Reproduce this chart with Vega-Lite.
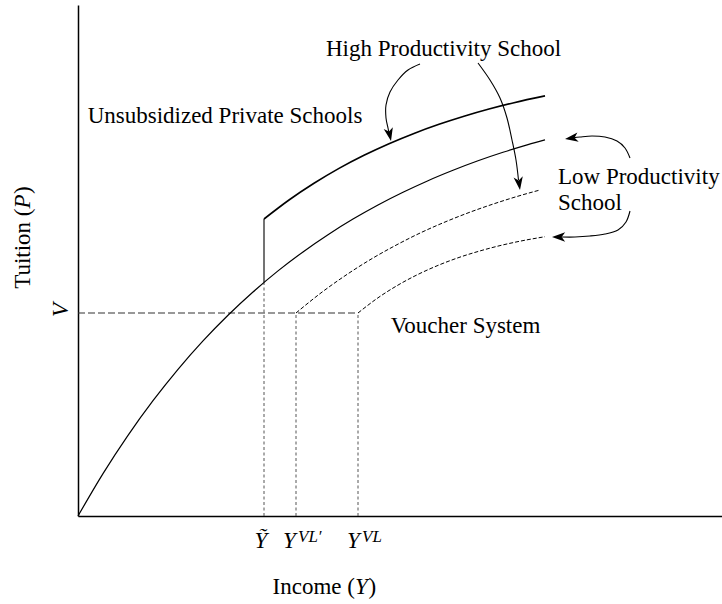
{
  "$schema": "https://vega.github.io/schema/vega-lite/v6.json",
  "width": 644,
  "height": 511,
  "autosize": {"type": "none"},
  "padding": {"left": 78, "top": 5, "right": 0, "bottom": 88},
  "background": "white",
  "config": {
    "view": {"stroke": null},
    "font": "Liberation Serif",
    "axis": {"domainColor": "black", "domainWidth": 1.5, "ticks": false, "labels": false, "grid": false}
  },
  "datasets": {
    "base": [
      {"x": 0, "y": 0}, {"x": 25, "y": 42.4}, {"x": 50, "y": 80.7}, {"x": 75, "y": 115.3}, {"x": 100, "y": 146.7},
      {"x": 125, "y": 175.1}, {"x": 150, "y": 200.8}, {"x": 175, "y": 224}, {"x": 200, "y": 245.1}, {"x": 225, "y": 264.1},
      {"x": 250, "y": 281.3}, {"x": 275, "y": 296.9}, {"x": 300, "y": 311}, {"x": 325, "y": 323.7}, {"x": 350, "y": 335.3},
      {"x": 375, "y": 345.7}, {"x": 400, "y": 355.2}, {"x": 425, "y": 363.7}, {"x": 450, "y": 371.4}, {"x": 467, "y": 376.2}
    ],
    "high": [
      {"x": 186, "y": 297}, {"x": 211, "y": 316}, {"x": 236, "y": 332.7}, {"x": 261, "y": 347.6}, {"x": 286, "y": 360.7},
      {"x": 311, "y": 372.3}, {"x": 336, "y": 382.6}, {"x": 361, "y": 391.7}, {"x": 386, "y": 399.8}, {"x": 411, "y": 407},
      {"x": 436, "y": 413.3}, {"x": 467, "y": 420.1}
    ],
    "low1": [
      {"x": 218, "y": 203}, {"x": 243, "y": 223.1}, {"x": 268, "y": 240.9}, {"x": 293, "y": 256.8}, {"x": 318, "y": 270.8},
      {"x": 343, "y": 283.4}, {"x": 368, "y": 294.4}, {"x": 393, "y": 304.2}, {"x": 418, "y": 312.9}, {"x": 443, "y": 320.7},
      {"x": 462, "y": 326}
    ],
    "low2": [
      {"x": 280, "y": 203}, {"x": 300, "y": 218.2}, {"x": 320, "y": 230.9}, {"x": 340, "y": 241.6}, {"x": 360, "y": 250.6},
      {"x": 380, "y": 258.2}, {"x": 400, "y": 264.5}, {"x": 420, "y": 269.9}, {"x": 440, "y": 274.4}, {"x": 467, "y": 279.3}
    ],
    "vline": [{"x": 0, "x2": 280, "y": 203}],
    "drops": [
      {"x": 186, "y": 0, "y2": 233.7},
      {"x": 218, "y": 0, "y2": 203},
      {"x": 280, "y": 0, "y2": 203}
    ],
    "step": [{"x": 186, "y": 233.7, "y2": 297}],
    "arrows": [
      {"arrow": "A", "i": 0, "x": 342, "y": 452}, {"arrow": "A", "i": 1, "x": 330, "y": 446}, {"arrow": "A", "i": 2, "x": 320, "y": 436},
      {"arrow": "A", "i": 3, "x": 312, "y": 424}, {"arrow": "A", "i": 4, "x": 308, "y": 411}, {"arrow": "A", "i": 5, "x": 308, "y": 398},
      {"arrow": "A", "i": 6, "x": 310, "y": 388}, {"arrow": "A", "i": 7, "x": 311, "y": 383},
      {"arrow": "B", "i": 0, "x": 400, "y": 453}, {"arrow": "B", "i": 1, "x": 412, "y": 436}, {"arrow": "B", "i": 2, "x": 422, "y": 418},
      {"arrow": "B", "i": 3, "x": 429, "y": 398}, {"arrow": "B", "i": 4, "x": 434, "y": 376}, {"arrow": "B", "i": 5, "x": 438, "y": 356},
      {"arrow": "B", "i": 6, "x": 440.5, "y": 336},
      {"arrow": "C", "i": 0, "x": 552, "y": 358}, {"arrow": "C", "i": 1, "x": 547, "y": 368}, {"arrow": "C", "i": 2, "x": 539, "y": 375},
      {"arrow": "C", "i": 3, "x": 527, "y": 379}, {"arrow": "C", "i": 4, "x": 514, "y": 380}, {"arrow": "C", "i": 5, "x": 502, "y": 379},
      {"arrow": "C", "i": 6, "x": 496, "y": 378.3},
      {"arrow": "D", "i": 0, "x": 552, "y": 305}, {"arrow": "D", "i": 1, "x": 548, "y": 294}, {"arrow": "D", "i": 2, "x": 540, "y": 286},
      {"arrow": "D", "i": 3, "x": 527, "y": 282}, {"arrow": "D", "i": 4, "x": 512, "y": 280}, {"arrow": "D", "i": 5, "x": 497, "y": 279},
      {"arrow": "D", "i": 6, "x": 484, "y": 279}
    ],
    "heads": [
      {"arrow": "A", "x": 313, "y": 375},
      {"arrow": "B", "x": 442, "y": 326},
      {"arrow": "C", "x": 487, "y": 377},
      {"arrow": "D", "x": 474, "y": 279}
    ],
    "labelsCenter": [
      {"x": 365.5, "y": 460, "t": "High Productivity School"},
      {"x": 147, "y": 393, "t": "Unsubsidized Private Schools"},
      {"x": 387.5, "y": 183, "t": "Voucher System"}
    ],
    "labelsLeft": [
      {"x": 480, "y": 332, "t": "Low Productivity"},
      {"x": 480, "y": 306, "t": "School"}
    ],
    "incomeRoman": [
      {"x": 277, "y": -78, "t": "Income ("}
    ],
    "incomeItalic": [
      {"x": 277, "y": -78, "t": "Y"}
    ],
    "incomeClose": [
      {"x": 290.5, "y": -78, "t": ")"}
    ],
    "ticksMain": [
      {"x": 183, "y": -32, "t": "Ỹ"}
    ],
    "ticksLeft": [
      {"x": 205, "y": -32, "t": "Y"},
      {"x": 269, "y": -32, "t": "Y"}
    ],
    "ticksSup": [
      {"x": 220, "y": -26, "t": "VL′"},
      {"x": 284, "y": -26, "t": "VL"}
    ]
  },
  "encoding": {
    "x": {"field": "x", "type": "quantitative", "scale": {"domain": [0, 644], "nice": false, "zero": false}, "axis": {"title": null}},
    "y": {"field": "y", "type": "quantitative", "scale": {"domain": [0, 511], "nice": false, "zero": false}, "axis": {"title": null}}
  },
  "layer": [
    {"data": {"name": "vline"}, "mark": {"type": "rule", "color": "#333", "strokeWidth": 1.1, "strokeDash": [7, 3]},
      "encoding": {"x2": {"field": "x2"}}},
    {"data": {"name": "drops"}, "mark": {"type": "rule", "color": "#555", "strokeWidth": 1, "strokeDash": [3, 2.5]},
      "encoding": {"y2": {"field": "y2"}}},
    {"data": {"name": "step"}, "mark": {"type": "rule", "color": "#444", "strokeWidth": 1.5},
      "encoding": {"y2": {"field": "y2"}}},
    {"data": {"name": "base"}, "mark": {"type": "line", "color": "black", "strokeWidth": 1.2, "interpolate": "monotone"}},
    {"data": {"name": "high"}, "mark": {"type": "line", "color": "black", "strokeWidth": 1.6, "interpolate": "monotone"}},
    {"data": {"name": "low1"}, "mark": {"type": "line", "color": "black", "strokeWidth": 1, "strokeDash": [4, 2], "interpolate": "monotone"}},
    {"data": {"name": "low2"}, "mark": {"type": "line", "color": "black", "strokeWidth": 1, "strokeDash": [4, 2], "interpolate": "monotone"}},
    {"data": {"name": "arrows"}, "mark": {"type": "line", "color": "black", "strokeWidth": 1.1, "interpolate": "cardinal"},
      "encoding": {"detail": {"field": "arrow"}, "order": {"field": "i", "type": "quantitative"}}},
    {"data": {"name": "heads"}, "transform": [{"filter": "datum.arrow === 'A'"}],
      "mark": {"type": "point", "shape": "M0,0 L0.6,1.7 L0,1.25 L-0.6,1.7 Z", "filled": true, "color": "black", "opacity": 1, "size": 240, "angle": 168, "strokeWidth": 0}},
    {"data": {"name": "heads"}, "transform": [{"filter": "datum.arrow === 'B'"}],
      "mark": {"type": "point", "shape": "M0,0 L0.6,1.7 L0,1.25 L-0.6,1.7 Z", "filled": true, "color": "black", "opacity": 1, "size": 240, "angle": 172, "strokeWidth": 0}},
    {"data": {"name": "heads"}, "transform": [{"filter": "datum.arrow === 'C'"}],
      "mark": {"type": "point", "shape": "M0,0 L0.6,1.7 L0,1.25 L-0.6,1.7 Z", "filled": true, "color": "black", "opacity": 1, "size": 240, "angle": 262, "strokeWidth": 0}},
    {"data": {"name": "heads"}, "transform": [{"filter": "datum.arrow === 'D'"}],
      "mark": {"type": "point", "shape": "M0,0 L0.6,1.7 L0,1.25 L-0.6,1.7 Z", "filled": true, "color": "black", "opacity": 1, "size": 240, "angle": 270, "strokeWidth": 0}},
    {"data": {"name": "labelsCenter"}, "mark": {"type": "text", "font": "Liberation Serif", "fontSize": 23, "align": "center", "baseline": "alphabetic", "color": "black"},
      "encoding": {"text": {"field": "t"}}},
    {"data": {"name": "labelsLeft"}, "mark": {"type": "text", "font": "Liberation Serif", "fontSize": 23, "align": "left", "baseline": "alphabetic", "color": "black"},
      "encoding": {"text": {"field": "t"}}},
    {"data": {"name": "incomeRoman"}, "mark": {"type": "text", "font": "Liberation Serif", "fontSize": 23, "align": "right", "baseline": "alphabetic", "color": "black"},
      "encoding": {"text": {"field": "t"}}},
    {"data": {"name": "incomeItalic"}, "mark": {"type": "text", "font": "Liberation Serif", "fontSize": 23, "fontStyle": "italic", "align": "left", "baseline": "alphabetic", "color": "black"},
      "encoding": {"text": {"field": "t"}}},
    {"data": {"name": "incomeClose"}, "mark": {"type": "text", "font": "Liberation Serif", "fontSize": 23, "align": "left", "baseline": "alphabetic", "color": "black"},
      "encoding": {"text": {"field": "t"}}},
    {"data": {"values": [{"x": -48, "y": 307.5, "t": "Tuition ("}]}, "mark": {"type": "text", "font": "Liberation Serif", "fontSize": 23, "angle": 270, "align": "right", "baseline": "alphabetic", "color": "black"},
      "encoding": {"text": {"field": "t"}}},
    {"data": {"values": [{"x": -48, "y": 307.5, "t": "P"}]}, "mark": {"type": "text", "font": "Liberation Serif", "fontSize": 23, "fontStyle": "italic", "angle": 270, "align": "left", "baseline": "alphabetic", "color": "black"},
      "encoding": {"text": {"field": "t"}}},
    {"data": {"values": [{"x": -48, "y": 322, "t": ")"}]}, "mark": {"type": "text", "font": "Liberation Serif", "fontSize": 23, "angle": 270, "align": "left", "baseline": "alphabetic", "color": "black"},
      "encoding": {"text": {"field": "t"}}},
    {"data": {"values": [{"x": -10, "y": 206, "t": "V"}]}, "mark": {"type": "text", "font": "Liberation Serif", "fontSize": 23, "fontStyle": "italic", "angle": 270, "align": "center", "baseline": "alphabetic", "color": "black"},
      "encoding": {"text": {"field": "t"}}},
    {"data": {"name": "ticksMain"}, "mark": {"type": "text", "font": "Liberation Serif", "fontSize": 23, "fontStyle": "italic", "align": "center", "baseline": "alphabetic", "color": "black"},
      "encoding": {"text": {"field": "t"}}},
    {"data": {"name": "ticksLeft"}, "mark": {"type": "text", "font": "Liberation Serif", "fontSize": 23, "fontStyle": "italic", "align": "left", "baseline": "alphabetic", "color": "black"},
      "encoding": {"text": {"field": "t"}}},
    {"data": {"name": "ticksSup"}, "mark": {"type": "text", "font": "Liberation Serif", "fontSize": 17, "fontStyle": "italic", "align": "left", "baseline": "alphabetic", "color": "black"},
      "encoding": {"text": {"field": "t"}}}
  ]
}
